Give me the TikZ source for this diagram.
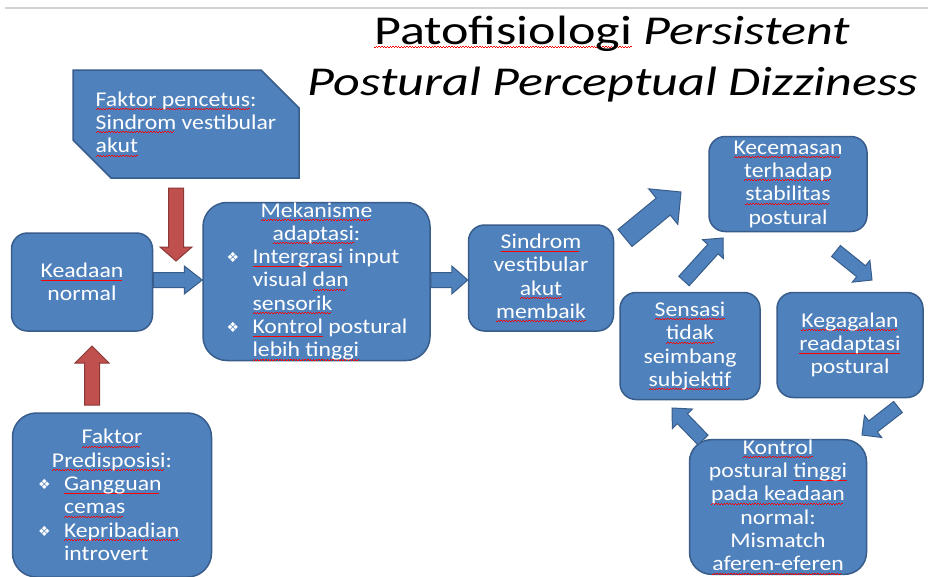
\documentclass[tikz,border=0pt]{standalone}
\usepackage{fontspec}
\setmainfont{Carlito}[FakeStretch=1.13]
\newfontfamily\titlefont{Carlito}[FakeStretch=1.27]
\newfontfamily\symfont{DejaVu Sans}
\usetikzlibrary{calc,shapes.misc}
\definecolor{boxblue}{HTML}{4F81BD}
\definecolor{boxedge}{HTML}{385D8A}
\definecolor{redfill}{HTML}{C0504D}
\definecolor{rededge}{HTML}{8C3836}
\newsavebox\sqbox
\newcommand\sq[1]{\sbox\sqbox{#1}\rlap{\textcolor{red}{\hbox to\wd\sqbox{\leaders\hbox{\rule[-3.6pt]{1.4pt}{0.8pt}\rule[-2.8pt]{1.4pt}{0.8pt}}\hfil}}}\usebox\sqbox}
\newcommand\bul{\makebox[27pt][l]{\hspace{1pt}\raisebox{1pt}{\symfont\fontsize{14}{14}\selectfont ❖}}}
\newcommand\ind{\hspace*{27pt}}
\newcommand\blockarrow[6]{%
  \coordinate (tmpH) at ($(#3)!#6!(#2)$);
  \filldraw[#1] ($(#2)!#4!90:(#3)$) -- ($(tmpH)!#4!-90:(#2)$) -- ($(tmpH)!#5!-90:(#2)$)
    -- (#3) -- ($(tmpH)!#5!90:(#2)$) -- ($(tmpH)!#4!90:(#2)$) -- ($(#2)!#4!-90:(#3)$) -- cycle;}
\tikzset{
  box/.style={draw=boxedge, fill=boxblue, line width=1.5pt, rounded corners=#1, text=white,
    align=center, inner sep=0pt, font=\fontsize{21}{23.3}\selectfont},
  box/.default=16pt,
  bluearrow/.style={draw=boxedge, fill=boxblue, line width=1pt},
  redarrow/.style={draw=rededge, fill=redfill, line width=1pt},
  titletext/.style={font=\titlefont\fontsize{41}{50}\selectfont, anchor=base, inner sep=0pt}
}
\begin{document}
\begin{tikzpicture}[x=1pt,y=-1pt]
\useasboundingbox (0,0) rectangle (928,576);
\fill[white] (0,0) rectangle (928,576);
\draw[gray!35, line width=1.5pt] (5,8) -- (928,8);

% title
\node[titletext] (t1) at (612,44) {\sq{Patofisiologi} \textit{Persistent}};
\node[titletext] (t2) at (613,95) {\textit{Postural Perceptual Dizziness}};

% boxes
\node[box, chamfered rectangle, chamfered rectangle corners={north east,south west},
  chamfered rectangle xsep=20pt, chamfered rectangle ysep=18pt, rounded corners=0pt,
  minimum width=226pt, minimum height=108pt, align=left] (pencetus) at (186,124)
  {\sq{Faktor pencetus}:\\ \sq{Sindrom} vestibular\\ \sq{akut}};

\node[box, minimum width=141pt, minimum height=98pt] (normal) at (82,282)
  {\sq{Keadaan}\\normal};

\node[box=24pt, minimum width=227pt, minimum height=153pt, align=left] (mek) at (316.5,281.5)
  {\makebox[182pt][c]{\sq{Mekanisme}}\\
   \makebox[182pt][c]{\sq{adaptasi}:}\\
   \bul\sq{Intergrasi} input\\
   \ind visual \sq{dan}\\
   \ind\sq{sensorik}\\
   \bul\sq{Kontrol} postural\\
   \ind\sq{lebih tinggi}};

\node[box, minimum width=145pt, minimum height=106pt] (sindrom) at (541,278)
  {\sq{Sindrom}\\vestibular\\\sq{akut}\\\sq{membaik}};

\node[box, minimum width=158pt, minimum height=95pt] (cemas) at (788,184)
  {\sq{Kecemasan}\\\sq{terhadap}\\\sq{stabilitas}\\postural};

\node[box, minimum width=140pt, minimum height=107pt] (sensasi) at (690,346)
  {\sq{Sensasi}\\\sq{tidak}\\seimbang\\\sq{subjektif}};

\node[box, minimum width=146pt, minimum height=105pt] (gagal) at (850,345)
  {\sq{Kegagalan}\\\sq{readaptasi}\\postural};

\node[box=22pt, minimum width=177pt, minimum height=134pt] (kontrol) at (778,507)
  {\sq{Kontrol}\\postural \sq{tinggi}\\\sq{pada keadaan}\\normal:\\Mismatch\\\sq{aferen-eferen}};

\node[box=24pt, minimum width=199pt, minimum height=164pt, align=left] (predis) at (112,495)
  {\makebox[150pt][c]{\sq{Faktor}}\\
   \makebox[150pt][c]{\sq{Predisposisi}:}\\
   \bul\sq{Gangguan}\\
   \ind\sq{cemas}\\
   \bul\sq{Kepribadian}\\
   \ind introvert};

% arrow end points
\coordinate (a1s) at (normal.east |- 0,280);
\coordinate (a1e) at (mek.west |- 0,280);
\coordinate (a2s) at (mek.east |- 0,280);
\coordinate (a2e) at (sindrom.west |- 0,280);
\coordinate (a3s) at (625,238);
\coordinate (a3e) at (681,192);
\coordinate (a4s) at (836,251);
\coordinate (a4e) at (872,280);
\coordinate (a5s) at (898,407);
\coordinate (a5e) at (862,435);
\coordinate (a6s) at (703,440);
\coordinate (a6e) at (672,408);
\coordinate (a7s) at (684,281);
\coordinate (a7e) at (723,238);
\coordinate (r1s) at (176,188);
\coordinate (r1e) at (176,261);
\coordinate (r2s) at (92,405);
\coordinate (r2e) at (92,346);

\blockarrow{bluearrow}{a1s}{a1e}{7.5pt}{14pt}{18pt}
\blockarrow{bluearrow}{a2s}{a2e}{7.5pt}{14pt}{16pt}
\blockarrow{bluearrow}{a3s}{a3e}{11pt}{23pt}{23pt}
\blockarrow{bluearrow}{a4s}{a4e}{7pt}{14pt}{14pt}
\blockarrow{bluearrow}{a5s}{a5e}{7pt}{14pt}{14pt}
\blockarrow{bluearrow}{a6s}{a6e}{7pt}{14pt}{15pt}
\blockarrow{bluearrow}{a7s}{a7e}{7pt}{14pt}{15pt}
\blockarrow{redarrow}{r1s}{r1e}{7.5pt}{16pt}{14pt}
\blockarrow{redarrow}{r2s}{r2e}{7.5pt}{17pt}{17pt}
\end{tikzpicture}
\end{document}
